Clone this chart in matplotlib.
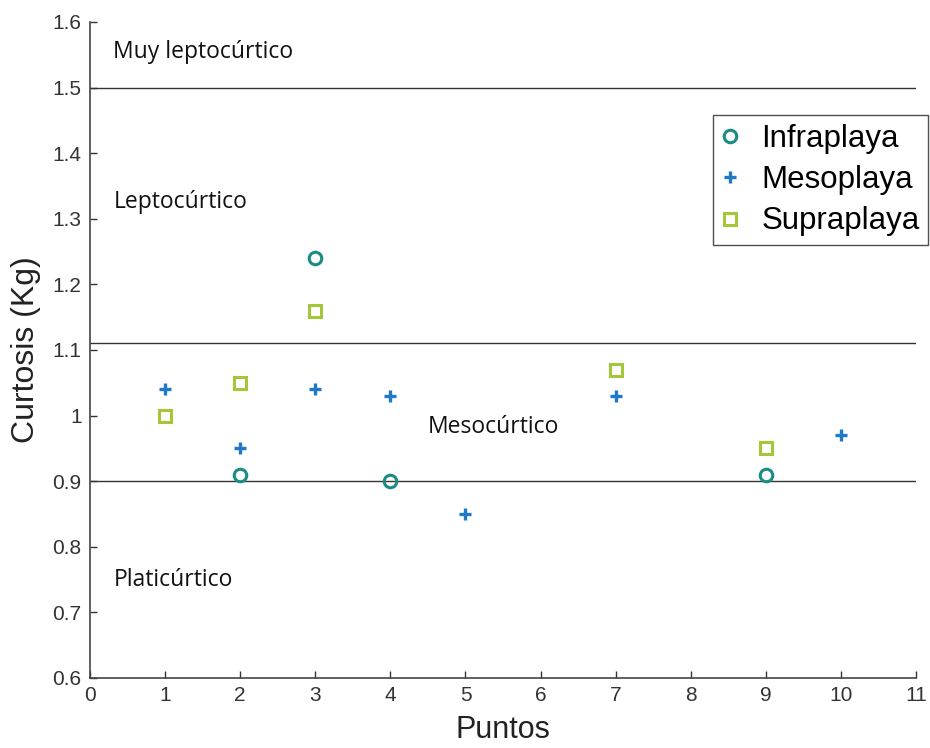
import matplotlib.pyplot as plt
from matplotlib import font_manager

# Curtosis (Kg) por punto de muestreo y zona de playa
infra_x = [2, 3, 4, 9]
infra_kg = [0.91, 1.24, 0.90, 0.91]

meso_x = [1, 2, 3, 4, 5, 7, 10]
meso_kg = [1.04, 0.95, 1.04, 1.03, 0.85, 1.03, 0.97]

supra_x = [1, 2, 3, 7, 9]
supra_kg = [1.00, 1.05, 1.16, 1.07, 0.95]

# limites entre clases de curtosis
limites = [1.5, 1.11, 0.9]
clases = ['Muy leptocúrtico', 'Leptocúrtico', 'Mesocúrtico', 'Platicúrtico']
clases_pos = [(0.31, 1.555), (0.31, 1.325), (4.5, 0.982), (0.31, 0.749)]

available = {f.name for f in font_manager.fontManager.ttflist}
tick_font = 'Liberation Sans Narrow' if 'Liberation Sans Narrow' in available else 'Liberation Sans'

fig = plt.figure(figsize=(9.3, 7.48), dpi=100)
ax = fig.add_axes([0.0968, 0.0936, 0.8882, 0.877])

for y in limites:
    ax.axhline(y, color='#333333', lw=1.0, zorder=1)

ax.plot(infra_x, infra_kg, 'o', ls='none', mfc='none', mec='#1a8c84', mew=2.2, ms=9,
        label='Infraplaya', zorder=3)
ax.plot(meso_x, meso_kg, '+', ls='none', color='#1f78c8', mew=2.4, ms=9,
        label='Mesoplaya', zorder=3)
ax.plot(supra_x, supra_kg, 's', ls='none', mfc='none', mec='#a4c639', mew=2.2, ms=8,
        label='Supraplaya', zorder=3)

for txt, (xt, yt) in zip(clases, clases_pos):
    ax.text(xt, yt, txt, fontsize=16.5, family='Open Sans', color='#111111', va='center', ha='left')

ax.set_xlim(0, 11)
ax.set_ylim(0.6, 1.6)
ax.set_xticks(range(0, 12))
ax.set_yticks([0.6, 0.7, 0.8, 0.9, 1.0, 1.1, 1.2, 1.3, 1.4, 1.5, 1.6])
ax.set_yticklabels(['0.6', '0.7', '0.8', '0.9', '1', '1.1', '1.2', '1.3', '1.4', '1.5', '1.6'])
ax.tick_params(direction='in', length=5, width=1, colors='#333333', labelsize=15,
               labelcolor='#333333', pad=6)
for lab in ax.get_xticklabels() + ax.get_yticklabels():
    lab.set_family(tick_font)

ax.spines['top'].set_visible(False)
ax.spines['right'].set_visible(False)
for s in ('left', 'bottom'):
    ax.spines[s].set_color('#444444')
    ax.spines[s].set_linewidth(1.2)

ax.set_xlabel('Puntos', fontsize=22, family='Liberation Sans', color='#222222', labelpad=7)
ax.set_ylabel('Curtosis (Kg)', fontsize=23, family='Liberation Sans', color='#222222', labelpad=8)

leg = ax.legend(loc='upper right', bbox_to_anchor=(0.998, 0.846), bbox_transform=fig.transFigure,
                frameon=True, fancybox=False, edgecolor='#222222',
                prop={'family': 'Liberation Sans', 'size': 22.5}, handletextpad=0.75,
                borderpad=0.28, labelspacing=0.36, handlelength=0.5, borderaxespad=0)
leg.get_frame().set_linewidth(1.0)

fig.savefig('out.png', dpi=100)
